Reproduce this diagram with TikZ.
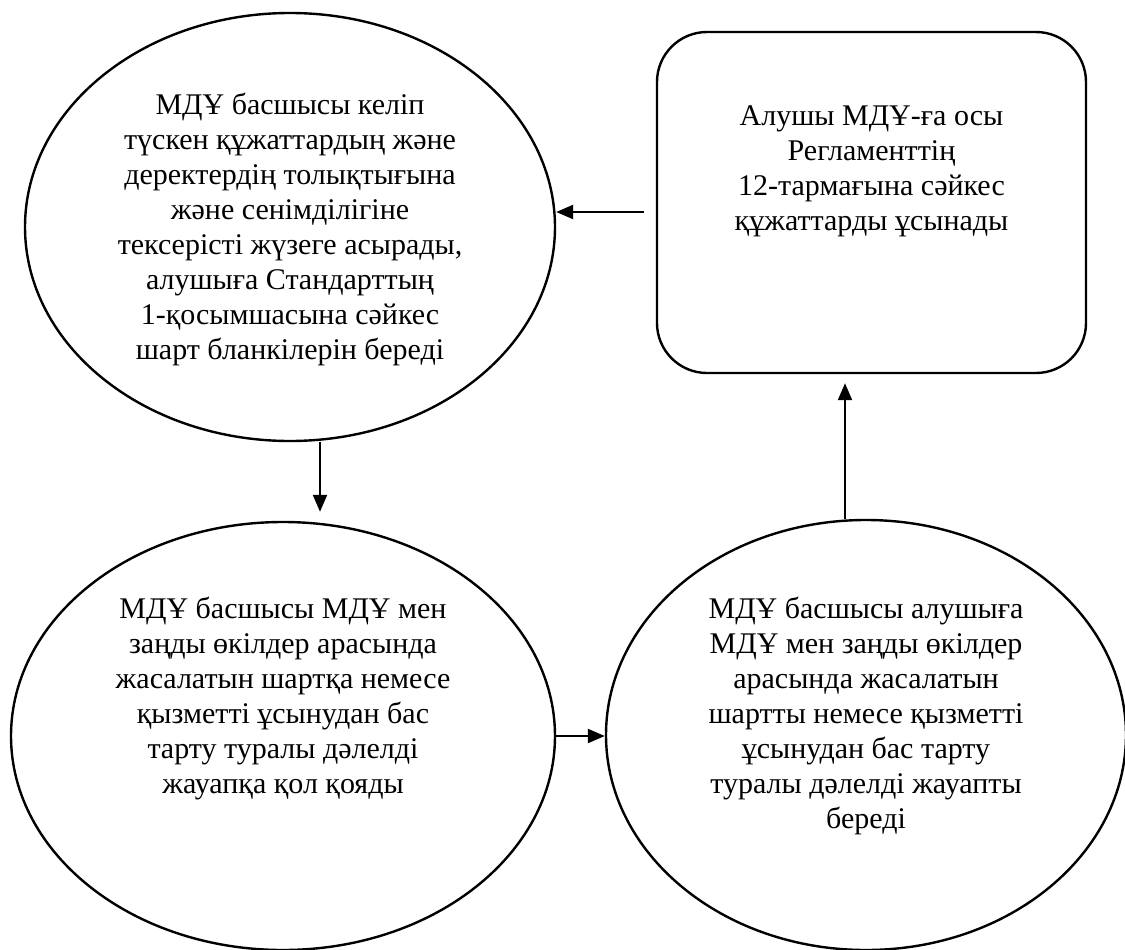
\documentclass[tikz,border=0pt]{standalone}
\usepackage{fontspec}
\setmainfont{Liberation Serif}
\usetikzlibrary{shapes.geometric,arrows.meta}

\begin{document}
\begin{tikzpicture}[x=1pt,y=-1pt,
  outline/.style={draw=black,line width=2.4pt,inner sep=0pt},
  oval/.style={outline,ellipse},
  card/.style={outline,rectangle,rounded corners=50pt},
  txt/.style={font=\fontsize{30}{35}\selectfont,align=center,inner sep=0pt},
  arr/.style={line width=2.2pt,-{Triangle[length=17pt,width=14pt]}}]

\clip (0,0) rectangle (1125,950);
\fill[white] (0,0) rectangle (1125,950);

% process shapes
\node[oval,minimum width=530pt,minimum height=428pt] (e1) at (290,227) {};
\node[oval,minimum width=544pt,minimum height=428pt] (e2) at (283,736) {};
\node[oval,minimum width=520pt,minimum height=430pt] (e3) at (866,735) {};
\node[card,minimum width=429pt,minimum height=341pt] (box) at (871.5,202.5) {};

% texts
\node[txt] (t1) at ([yshift=-2pt]e1.center) {МДҰ басшысы келіп\\түскен құжаттардың және\\деректердің толықтығына\\және сенімділігіне\\тексерісті жүзеге асырады,\\алушыға Стандарттың\\1-қосымшасына сәйкес\\шарт бланкілерін береді};
\node[txt] (t2) at ([yshift=38pt]e2.center) {МДҰ басшысы МДҰ мен\\заңды өкілдер арасында\\жасалатын шартқа немесе\\қызметті ұсынудан бас\\тарту туралы дәлелді\\жауапқа қол қояды};
\node[txt] (t3) at ([yshift=19pt]e3.center) {МДҰ басшысы алушыға\\МДҰ мен заңды өкілдер\\арасында жасалатын\\шартты немесе қызметті\\ұсынудан бас тарту\\туралы дәлелді жауапты\\береді};
\node[txt] (tb) at ([yshift=31pt]box.center) {Алушы МДҰ-ға осы\\Регламенттің\\12-тармағына сәйкес\\құжаттарды ұсынады};

% connectors
\coordinate (a1) at ([xshift=-12pt,yshift=-9.5pt]box.west);
\draw[arr] (a1) -- (a1 -| e1.east);
\coordinate (a2) at ([xshift=30pt]e1.south);
\draw[arr,shorten >=9pt] (a2) -- (a2 |- e2.north);
\draw[arr] (e2.east) -- (e2.east -| e3.west);
\coordinate (a4) at ([xshift=-21pt]e3.north);
\draw[arr,shorten >=9pt] (a4) -- (a4 |- box.south);
\end{tikzpicture}
\end{document}
